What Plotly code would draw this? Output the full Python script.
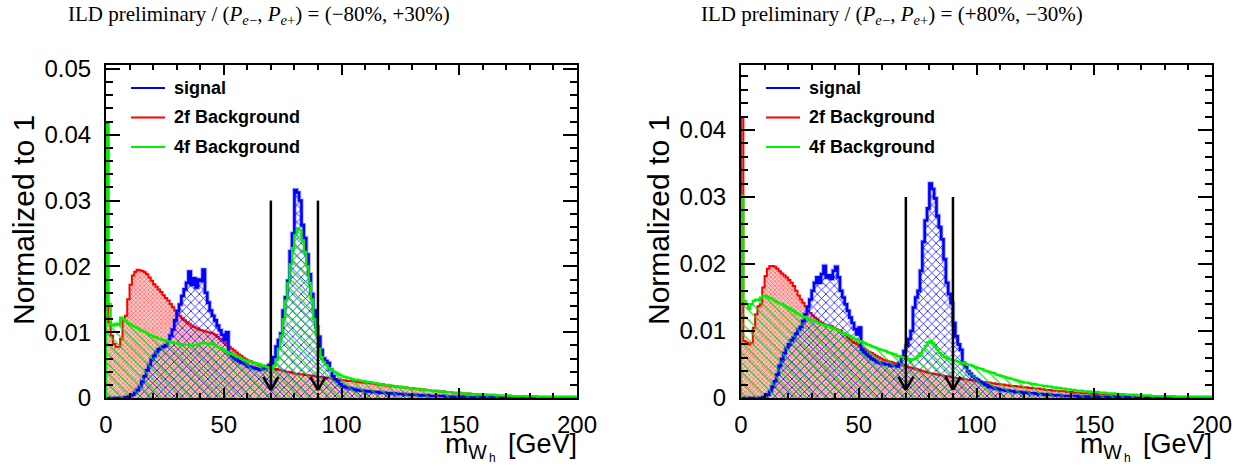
import plotly.graph_objects as go

W, H = 1253, 466

# ---------------- data (1 GeV bins from 0 to 200 GeV, values x 1e-4, normalised to 1) -------------
bin_edges = list(range(0, 201))
unit = 1e-4

titles = ["ILD preliminary / (<i>P</i><sub><i>e</i>−</sub>, <i>P</i><sub><i>e</i>+</sub>) = (−80%, +30%)",
          "ILD preliminary / (<i>P</i><sub><i>e</i>−</sub>, <i>P</i><sub><i>e</i>+</sub>) = (+80%, −30%)"]
series_names = ["signal", "2f Background", "4f Background"]
cut_values = [70, 90]          # GeV, arrows
arrow_top = 0.030
arrow_tip = 0.0012

x_ticks = [0, 50, 100, 150, 200]
y_ticks = [0, 0.01, 0.02, 0.03, 0.04, 0.05]
y_tick_labels = ["0", "0.01", "0.02", "0.03", "0.04", "0.05"]

# left panel  (P_e-, P_e+) = (-80%, +30%)
left_2f = [
    418, 115, 95, 82, 78, 78, 90, 118, 125, 150,
    172, 186, 192, 195, 194, 193, 191, 188, 183, 178,
    173, 169, 165, 161, 156, 152, 148, 143, 138, 133,
    128, 125, 121, 118, 115, 113, 110, 108, 106, 104,
    103, 102, 101, 100, 99, 98, 96, 93, 90, 87,
    84, 81, 78, 75, 72, 69, 66, 64, 61, 59,
    57, 56, 54, 53, 51, 50, 49, 48, 47, 46,
    45, 44, 44, 43, 42, 41, 40, 40, 39, 38,
    37, 37, 36, 36, 35, 35, 34, 34, 33, 33,
    32, 32, 31, 31, 30, 30, 29, 29, 28, 28,
    27, 27, 26, 26, 26, 25, 25, 24, 24, 23,
    23, 23, 22, 22, 21, 21, 20, 20, 19, 19,
    19, 18, 18, 17, 17, 17, 16, 16, 15, 15,
    15, 14, 14, 13, 13, 13, 12, 12, 11, 11,
    11, 10, 10, 10, 9, 9, 9, 8, 8, 8,
    8, 7, 7, 7, 6, 6, 6, 5, 5, 5,
    5, 5, 4, 4, 4, 4, 3, 3, 3, 3,
    3, 3, 3, 2, 2, 2, 2, 2, 2, 2,
    2, 2, 1, 1, 1, 1, 1, 1, 1, 1,
    1, 1, 1, 1, 1, 1, 1, 1, 1, 1,
]
left_4f = [
    415, 143, 112, 110, 113, 111, 122, 120, 117, 114,
    112, 110, 108, 106, 104, 102, 100, 98, 96, 95,
    93, 92, 90, 89, 88, 87, 86, 85, 84, 83,
    83, 82, 82, 81, 81, 81, 80, 80, 81, 82,
    83, 83, 83, 82, 83, 82, 80, 78, 76, 74,
    72, 70, 68, 67, 65, 63, 62, 60, 58, 57,
    56, 55, 54, 53, 52, 51, 49, 48, 47, 45,
    44, 48, 58, 75, 95, 120, 148, 175, 203, 228,
    248, 258, 255, 240, 222, 200, 175, 150, 120, 95,
    75, 62, 55, 50, 46, 43, 41, 39, 37, 35,
    33, 32, 31, 30, 29, 28, 28, 27, 26, 26,
    25, 24, 24, 23, 23, 22, 21, 21, 20, 20,
    19, 19, 18, 18, 17, 17, 16, 16, 15, 15,
    14, 14, 13, 13, 13, 12, 12, 12, 11, 11,
    11, 10, 10, 10, 9, 9, 9, 8, 8, 8,
    8, 7, 7, 7, 7, 6, 6, 6, 6, 5,
    5, 5, 5, 5, 5, 4, 4, 4, 4, 4,
    4, 4, 3, 3, 3, 3, 3, 3, 3, 3,
    3, 3, 3, 2, 2, 2, 2, 2, 2, 2,
    2, 2, 2, 2, 2, 2, 2, 2, 2, 2,
]
left_signal = [
    0, 0, 0, 0, 0, 0, 0, 0, 1, 2,
    3, 5, 8, 12, 17, 25, 33, 42, 50, 58,
    64, 70, 74, 76, 78, 80, 86, 95, 104, 118,
    132, 142, 155, 165, 175, 192, 172, 182, 168, 180,
    178, 195, 160, 145, 133, 125, 118, 110, 103, 96,
    88, 100, 68, 63, 60, 58, 56, 54, 53, 51,
    48, 47, 46, 45, 44, 43, 44, 46, 48, 50,
    53, 62, 78, 88, 98, 133, 153, 178, 223, 250,
    316, 312, 300, 263, 243, 218, 188, 158, 133, 108,
    93, 73, 60, 56, 53, 43, 33, 28, 25, 21,
    18, 17, 16, 15, 14, 13, 12, 12, 11, 11,
    10, 10, 10, 9, 9, 9, 8, 8, 8, 7,
    7, 7, 7, 6, 6, 6, 6, 5, 5, 5,
    5, 5, 4, 4, 4, 4, 4, 3, 3, 3,
    3, 3, 3, 3, 2, 2, 2, 2, 2, 2,
    2, 2, 2, 1, 1, 1, 1, 1, 1, 1,
    1, 1, 1, 1, 1, 1, 1, 0, 0, 0,
    0, 0, 0, 0, 0, 0, 0, 0, 0, 0,
    0, 0, 0, 0, 0, 0, 0, 0, 0, 0,
    0, 0, 0, 0, 0, 0, 0, 0, 0, 0,
]

# right panel  (P_e-, P_e+) = (+80%, -30%)
right_2f = [
    418, 85, 83, 80, 82, 105, 125, 137, 140, 165,
    182, 193, 197, 197, 196, 193, 189, 186, 183, 180,
    176, 172, 167, 160, 153, 147, 142, 137, 132, 127,
    123, 120, 117, 114, 112, 110, 109, 108, 107, 105,
    103, 101, 100, 97, 94, 90, 87, 84, 82, 80,
    77, 75, 73, 71, 69, 67, 65, 63, 61, 59,
    57, 56, 55, 54, 53, 52, 51, 50, 49, 48,
    47, 46, 45, 44, 43, 42, 41, 40, 39, 38,
    37, 36, 36, 35, 34, 34, 33, 32, 32, 31,
    30, 30, 29, 29, 28, 28, 27, 27, 26, 26,
    25, 25, 24, 24, 23, 23, 22, 22, 21, 21,
    20, 20, 19, 19, 18, 18, 18, 17, 17, 16,
    16, 16, 15, 15, 14, 14, 14, 13, 13, 12,
    12, 12, 11, 11, 11, 10, 10, 10, 9, 9,
    9, 8, 8, 8, 7, 7, 7, 7, 6, 6,
    6, 6, 5, 5, 5, 5, 4, 4, 4, 4,
    4, 4, 3, 3, 3, 3, 3, 3, 3, 3,
    3, 2, 2, 2, 2, 2, 2, 2, 2, 2,
    2, 2, 2, 1, 1, 1, 1, 1, 1, 1,
    1, 1, 1, 1, 1, 1, 1, 1, 1, 1,
]
right_4f = [
    302, 145, 140, 133, 140, 145, 147, 146, 150, 153,
    152, 151, 149, 147, 145, 143, 141, 140, 138, 136,
    134, 132, 130, 127, 125, 123, 121, 120, 119, 117,
    116, 115, 113, 111, 110, 109, 108, 107, 105, 104,
    102, 100, 98, 97, 95, 94, 92, 90, 88, 87,
    85, 84, 82, 80, 79, 77, 76, 75, 73, 72,
    71, 70, 68, 67, 66, 65, 63, 62, 61, 60,
    59, 58, 57, 58, 60, 63, 67, 72, 78, 83,
    85, 82, 77, 72, 67, 64, 61, 60, 58, 57,
    56, 55, 54, 53, 52, 51, 50, 49, 48, 46,
    45, 44, 43, 41, 40, 39, 38, 37, 35, 34,
    33, 32, 31, 30, 29, 28, 27, 26, 25, 24,
    23, 23, 22, 21, 21, 20, 19, 19, 18, 18,
    17, 17, 16, 16, 15, 15, 14, 14, 13, 13,
    12, 12, 11, 11, 11, 10, 10, 10, 9, 9,
    9, 9, 8, 8, 8, 7, 7, 7, 7, 6,
    6, 6, 6, 5, 5, 5, 5, 5, 4, 4,
    4, 4, 4, 4, 3, 3, 3, 3, 3, 3,
    3, 3, 3, 3, 2, 2, 2, 2, 2, 2,
    2, 2, 2, 2, 2, 2, 2, 2, 2, 2,
]
right_signal = [
    0, 0, 0, 0, 0, 0, 0, 0, 0, 1,
    2, 5, 10, 17, 25, 35, 48, 58, 67, 75,
    80, 86, 90, 96, 102, 106, 115, 125, 136, 147,
    160, 172, 180, 172, 185, 197, 180, 183, 178, 190,
    196, 180, 160, 150, 140, 130, 120, 112, 103, 95,
    105, 72, 68, 65, 62, 59, 57, 55, 53, 52,
    51, 50, 50, 49, 48, 48, 47, 52, 60, 70,
    78, 88, 100, 135, 150, 160, 190, 233, 265, 283,
    320, 312, 298, 272, 255, 237, 207, 172, 155, 142,
    112, 92, 80, 72, 52, 46, 40, 36, 32, 29,
    27, 24, 22, 20, 19, 17, 16, 15, 14, 13,
    12, 12, 11, 11, 10, 10, 9, 9, 9, 8,
    8, 8, 7, 7, 7, 6, 6, 6, 5, 5,
    5, 5, 4, 4, 4, 4, 3, 3, 3, 3,
    3, 3, 3, 2, 2, 2, 2, 2, 2, 2,
    2, 2, 1, 1, 1, 1, 1, 1, 1, 1,
    1, 1, 1, 1, 1, 0, 0, 0, 0, 0,
    0, 0, 0, 0, 0, 0, 0, 0, 0, 0,
    0, 0, 0, 0, 0, 0, 0, 0, 0, 0,
    0, 0, 0, 0, 0, 0, 0, 0, 0, 0,
]

panels = [
    dict(sig=left_signal, bg2=left_2f, bg4=left_4f, ymax=0.0506, title=titles[0]),
    dict(sig=right_signal, bg2=right_2f, bg4=right_4f, ymax=0.0497, title=titles[1]),
]

# ---------------- layout geometry (pixels) ----------------
frames = [(106, 577), (741, 1212)]
frame_top, frame_bottom = 65, 398

BLUE, RED, GREEN = "rgb(0,0,255)", "rgb(255,0,0)", "rgb(0,240,0)"


def step(vals):
    xs = [bin_edges[0]] + bin_edges[:-1] + [bin_edges[-1]]
    ys = [0.0] + [v * unit for v in vals] + [vals[-1] * unit]
    return xs, ys


def px(x):
    return x / W


def py(y):
    return 1 - y / H


fig = go.Figure()

styles = {
    "bg2": dict(color=RED, width=2, pattern=dict(shape="x", size=3, solidity=0.35, fgcolor="rgba(255,40,40,0.8)",
                                                  bgcolor="rgba(255,170,170,0.6)", fillmode="replace")),
    "sig": dict(color=BLUE, width=2.6, pattern=dict(shape="x", size=6, solidity=0.26, fgcolor="rgba(0,0,255,0.9)",
                                                     bgcolor="rgba(0,0,0,0)", fillmode="replace")),
    "bg4": dict(color=GREEN, width=2.2, pattern=dict(shape="\\", size=7, solidity=0.18, fgcolor="rgba(0,225,0,0.9)",
                                                      bgcolor="rgba(0,0,0,0)", fillmode="replace")),
}

for i, p in enumerate(panels):
    xa = "x" if i == 0 else "x2"
    ya = "y" if i == 0 else "y2"
    for key in ["bg2", "sig", "bg4"]:
        xs, ys = step(p[key])
        st = styles[key]
        if key == "sig":
            # soft halo around the signal outline
            fig.add_trace(go.Scatter(
                x=xs, y=ys, xaxis=xa, yaxis=ya, mode="lines",
                line=dict(color="rgba(90,90,255,0.45)", width=4.5, shape="hv"),
                showlegend=False, hoverinfo="skip",
            ))
        fig.add_trace(go.Scatter(
            x=xs, y=ys, xaxis=xa, yaxis=ya, mode="lines",
            line=dict(color=st["color"], width=st["width"], shape="hv"),
            fill="tozeroy", fillpattern=st["pattern"], showlegend=False, hoverinfo="skip",
        ))

axis_font = dict(family="Liberation Sans, Arial, sans-serif", size=24, color="black")
common = dict(showline=True, linecolor="black", linewidth=2, mirror="allticks", ticks="inside",
              tickcolor="black", tickwidth=1.5, showgrid=False, zeroline=False, tickfont=axis_font,
              automargin=False, fixedrange=True)

layout = dict(width=W, height=H, margin=dict(l=0, r=0, t=0, b=0), paper_bgcolor="white",
              plot_bgcolor="white", showlegend=False)

for i, p in enumerate(panels):
    sx = "" if i == 0 else "2"
    x0, x1 = frames[i]
    layout["xaxis" + sx] = dict(common, domain=[px(x0), px(x1)], range=[0, 200], anchor="y" + sx,
                                tickvals=x_ticks, ticklen=10, ticklabelstandoff=4,
                                minor=dict(dtick=10, tick0=0, ticklen=5, ticks="inside", tickcolor="black",
                                           tickwidth=1.5, showgrid=False))
    layout["yaxis" + sx] = dict(common, domain=[py(frame_bottom), py(frame_top)], range=[0, p["ymax"]],
                                anchor="x" + sx, tickvals=y_ticks, ticktext=y_tick_labels, ticklen=14,
                                ticklabelstandoff=8,
                                minor=dict(dtick=0.002, tick0=0, ticklen=7, ticks="inside", tickcolor="black",
                                           tickwidth=1.5, showgrid=False))
fig.update_layout(**layout)

shapes = []
annotations = []
legend_colors = [BLUE, RED, GREEN]
sans = "Liberation Sans, Arial, sans-serif"
for i, p in enumerate(panels):
    sx = "" if i == 0 else "2"
    x0, x1 = frames[i]
    xr, yr = "x" + sx, "y" + sx
    # cut arrows
    for c in cut_values:
        shapes.append(dict(type="line", xref=xr, yref=yr, x0=c, x1=c, y0=arrow_tip, y1=arrow_top,
                           line=dict(color="black", width=2.5)))
        for s in (-1, 1):
            shapes.append(dict(type="line", xref=xr, yref=yr, x0=c + s * 3.2, x1=c, y0=arrow_tip + 0.002,
                               y1=arrow_tip, line=dict(color="black", width=2.5)))
    # legend
    lx0 = x0 + 25
    for k, (name, col) in enumerate(zip(series_names, legend_colors)):
        yy = 88 + 29.5 * k
        shapes.append(dict(type="line", xref="paper", yref="paper", x0=px(lx0), x1=px(lx0 + 34),
                           y0=py(yy), y1=py(yy), line=dict(color=col, width=2)))
        annotations.append(dict(xref="paper", yref="paper", x=px(lx0 + 41), y=py(yy), text=name,
                                showarrow=False, xanchor="left", yanchor="middle",
                                font=dict(family=sans, size=18, color="black", weight="bold")))
    # title
    tc = 259 if i == 0 else 892
    annotations.append(dict(xref="paper", yref="paper", x=px(tc), y=py(15), text=p["title"],
                            showarrow=False, xanchor="center", yanchor="middle",
                            font=dict(family="Liberation Serif, Times New Roman, serif", size=21,
                                      color="black")))
    # y title
    annotations.append(dict(xref="paper", yref="paper", x=px(x0 - 83), y=py(220), text="Normalized to 1",
                            showarrow=False, textangle=-90, xanchor="center", yanchor="middle",
                            font=dict(family=sans, size=30, color="black")))
    # x title  m_{W_h} [GeV]
    annotations.append(dict(xref="paper", yref="paper", x=px(x1 + 1), y=py(444), text="[GeV]",
                            showarrow=False, xanchor="right", yanchor="middle", borderpad=0,
                            font=dict(family=sans, size=27, color="black")))
    annotations.append(dict(xref="paper", yref="paper", x=px(x1 - 133), y=py(445),
                            text="m<sub>W</sub>", borderpad=0,
                            showarrow=False, xanchor="left", yanchor="middle",
                            font=dict(family=sans, size=28, color="black")))
    annotations.append(dict(xref="paper", yref="paper", x=px(x1 - 89), y=py(458), text="h",
                            showarrow=False, xanchor="left", yanchor="middle", borderpad=0,
                            font=dict(family=sans, size=12, color="black")))

fig.update_layout(shapes=shapes, annotations=annotations)
fig.write_html("out.html")
